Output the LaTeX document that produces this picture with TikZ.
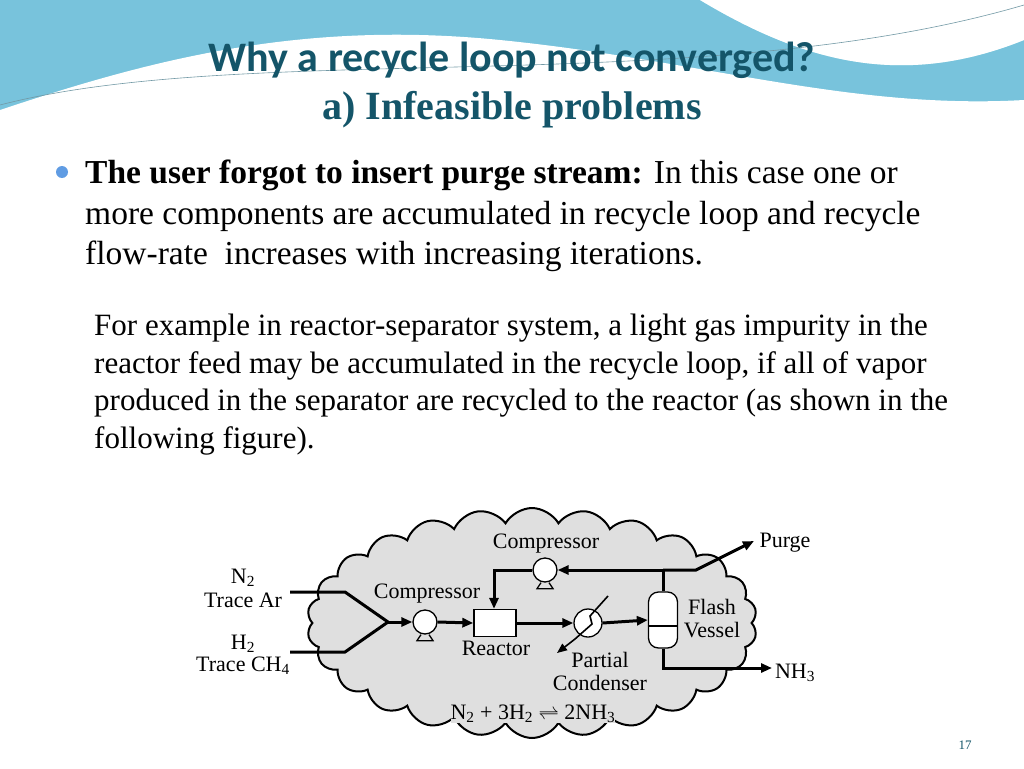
\documentclass[tikz,border=0pt]{standalone}
\usepackage{fontspec}
\setmainfont{Liberation Serif}
\newfontfamily\titlefont{Carlito}
\usetikzlibrary{shapes.symbols,arrows.meta}
\definecolor{teal}{RGB}{20,85,105}
\definecolor{skyblue}{RGB}{120,195,220}
\definecolor{paleblue}{RGB}{175,225,235}
\newcommand{\sbs}[1]{\textsubscript{#1}}
\begin{document}
\begin{tikzpicture}[x=1pt,y=-1pt,
    flow/.style={line width=3pt,-{Triangle[length=11pt,width=9pt]}},
    pipe/.style={line width=3pt},
    lbl/.style={font=\fontsize{22}{22}\selectfont,inner sep=0pt,fill=gray!25},
    pump/.style={circle,draw,line width=1.3pt,fill=white,minimum size=24pt,inner sep=0pt},
    bodyline/.style={anchor=base west,inner sep=0pt,font=\fontsize{33.5}{36}\selectfont},
    exline/.style={anchor=base west,inner sep=0pt,font=\fontsize{31}{32}\selectfont}]
  \useasboundingbox (0,0) rectangle (1024,768);
  % header swoosh
  \fill[skyblue] (0,0) rectangle (1024,140);
  \fill[paleblue] (700,0) -- (1024,0) -- (1024,40) .. controls (900,90) and (800,60) .. (700,0) -- cycle;
  \fill[white] (700,0) .. controls (800,60) and (900,90) .. (1024,40) -- (1024,0) -- cycle;
  \fill[white] (0,110) .. controls (150,60) and (300,20) .. (500,40)
    .. controls (700,60) and (850,110) .. (1024,100) -- (1024,768) -- (0,768) -- cycle;
  \draw[teal!60,line width=0.6pt] (0,105) .. controls (250,40) and (700,100) .. (1024,5);
  % title
  \node[font=\titlefont\bfseries\fontsize{42}{42}\selectfont,text=teal] (title) at (512,60) {Why a recycle loop not converged?};
  \node[font=\bfseries\fontsize{40}{40}\selectfont,text=teal] (subtitle) at (512,110) {a) Infeasible problems};
  % text
  \fill[skyblue!80!blue] (62,172) circle (6pt);
  \node[bodyline] (l1) at (85,183) {\textbf{The user forgot to insert purge stream:} In this case one or};
  \node[bodyline] (l2) at (85,224) {more components are accumulated in recycle loop and recycle};
  \node[bodyline] (l3) at (85,264) {flow-rate\ \ increases with increasing iterations.};
  \node[exline] (e1) at (94,335) {For example in reactor-separator system, a light gas impurity in the};
  \node[exline] (e2) at (94,373) {reactor feed may be accumulated in the recycle loop, if all of vapor};
  \node[exline] (e3) at (94,410) {produced in the separator are recycled to the reactor (as shown in the};
  \node[exline] (e4) at (94,448) {following figure).};
  % cloud
  \node[cloud,cloud puffs=26,cloud puff arc=120,aspect=1.9,draw,line width=2pt,fill=gray!25,
    minimum width=450pt,minimum height=230pt] (cloud) at (532,623) {};
  % units
  \node[pump] (feedpump) at (425,622) {};
  \node[pump] (recpump) at (545,570) {};
  \foreach \p in {feedpump,recpump}
    \draw[line width=1.3pt] ([xshift=-4pt]\p.south) -- ++(-4,6) -- ++(16,0) -- ++(-4,-6);
  \node[draw,line width=1.3pt,fill=white,minimum width=42pt,minimum height=27pt] (reactor) at (495,623) {};
  \node[pump,minimum size=28pt] (cond) at (588,623) {};
  \node[draw,line width=1.3pt,fill=white,rounded corners=10pt,minimum width=29pt,minimum height=56pt] (flash) at (663,620) {};
  \draw[line width=1.3pt] (flash.west|-0,626) -- (flash.east|-0,626);
  % connectors
  \coordinate (n2in) at (290,592);
  \coordinate (h2in) at (290,652);
  \coordinate (mix) at (388,622);
  \draw[pipe] (n2in) -- (345,592) -- (mix);
  \draw[pipe] (h2in) -- (345,652) -- (mix);
  \draw[flow] (mix) -- (feedpump.west);
  \draw[flow] (feedpump.east) -- (reactor.west);
  \draw[flow] (reactor.east) -- (cond.west);
  \draw[flow] (cond.east) -- (flash.west);
  \draw[line width=1.6pt,-{Triangle[length=10pt,width=8pt]}] (608,596) -- (590,616) -- (592,624) -- (575,639) -- (557,653);
  \coordinate (split) at (663,570);
  \coordinate (purgeend) at (754,541);
  \coordinate (nh3end) at (772,668);
  \draw[pipe] (flash.north) -- (split);
  \draw[flow] (split) -- (recpump.east);
  \draw[flow] (recpump.west) -- (494,570) -- (reactor.north-|494,0);
  \draw[flow] (split) -- (696,570) -- (purgeend);
  \draw[flow] (flash.south) -- (663,668) -- (nh3end);
  % labels
  \node[lbl] (lrec) at (546,544) {Compressor};
  \node[lbl] (lfeed) at (427,594) {Compressor};
  \node[lbl] (lreac) at (496,648) {Reactor};
  \node[lbl] (lcond1) at (600,660) {Partial};
  \node[lbl] (lcond2) at (600,683) {Condenser};
  \node[lbl] (lflash1) at (712,607) {Flash};
  \node[lbl] (lflash2) at (712,630) {Vessel};
  \node[lbl,fill=none] (ln2a) at (243,578) {N\sbs{2}};
  \node[lbl,fill=none] (ln2b) at (243,600) {Trace Ar};
  \node[lbl,fill=none] (lh2a) at (243,644) {H\sbs{2}};
  \node[lbl,fill=none] (lh2b) at (243,666) {Trace CH\sbs{4}};
  \node[lbl,fill=none] (lpurge) at (785,543) {Purge};
  \node[lbl,fill=none] (lnh3) at (795,673) {NH\sbs{3}};
  \node[lbl] (leq) at (533,714) {N\sbs{2} + 3H\sbs{2} $\rightleftharpoons$ 2NH\sbs{3}};
  \node[font=\fontsize{13}{13}\selectfont,text=teal] (page) at (965,745) {17};
\end{tikzpicture}
\end{document}
